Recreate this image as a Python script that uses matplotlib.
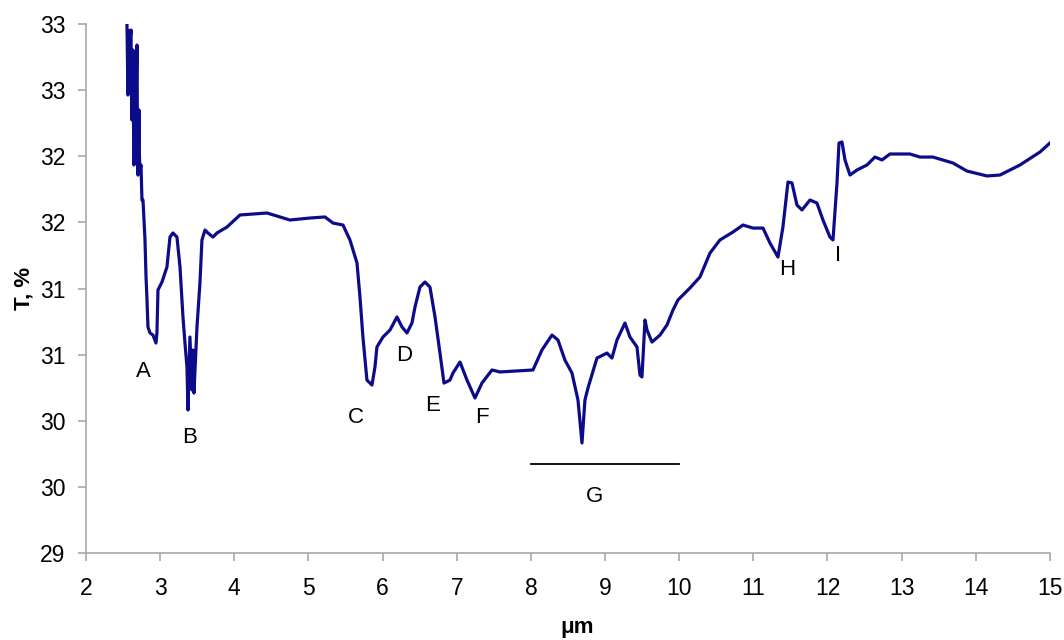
import matplotlib.pyplot as plt

plt.rcParams['font.family'] = ['Liberation Sans', 'DejaVu Sans']

# transmission spectrum: wavelength (um) and T (%)
wl = [2.553, 2.560, 2.566, 2.573, 2.580, 2.586, 2.593, 2.600, 2.607, 2.613,
      2.620, 2.627, 2.634, 2.640, 2.647, 2.654, 2.661, 2.667, 2.674, 2.681,
      2.688, 2.694, 2.701, 2.708, 2.715, 2.721, 2.728, 2.742, 2.755, 2.769,
      2.796, 2.809, 2.823,
      2.836, 2.863, 2.904, 2.944, 2.957, 2.971, 3.025, 3.092, 3.133, 3.173,
      3.227, 3.268, 3.308, 3.335, 3.362, 3.376, 3.402, 3.429, 3.443, 3.456,
      3.497, 3.537, 3.564, 3.605, 3.645, 3.713, 3.767, 3.902, 4.077, 4.441,
      4.751, 5.021, 5.223, 5.331, 5.466, 5.560, 5.655, 5.695, 5.735, 5.789,
      5.857, 5.897, 5.924, 6.005, 6.100, 6.194, 6.262, 6.329, 6.396, 6.437,
      6.504, 6.572, 6.639, 6.707, 6.774, 6.828, 6.909, 6.949, 7.044, 7.138,
      7.246, 7.340, 7.475, 7.583, 8.028, 8.149, 8.284, 8.365, 8.459, 8.554,
      8.635, 8.689, 8.729, 8.770, 8.891, 9.026, 9.093, 9.161, 9.269, 9.336,
      9.431, 9.471, 9.498, 9.539, 9.566, 9.633, 9.741, 9.835, 9.916, 9.983,
      10.145, 10.280, 10.415, 10.550, 10.725, 10.860, 10.995, 11.130, 11.224, 11.332,
      11.399, 11.467, 11.521, 11.588, 11.656, 11.764, 11.858, 11.939, 12.033, 12.074,
      12.128, 12.155, 12.195, 12.236, 12.303, 12.398, 12.532, 12.640, 12.735, 12.842,
      13.112, 13.247, 13.422, 13.692, 13.881, 14.151, 14.326, 14.596, 14.865, 15.000]
T = [33.000, 32.700, 32.463, 32.950, 32.879, 32.600, 32.501, 32.900, 32.955, 32.500,
     32.274, 32.650, 32.803, 32.300, 31.934, 32.500, 32.728, 32.300, 32.047, 32.600,
     32.841, 32.200, 31.858, 32.100, 32.350, 32.000, 31.896, 31.934, 31.669, 31.669,
     31.367, 31.102, 30.913,
     30.709, 30.664, 30.648, 30.588, 30.664, 30.989, 31.049, 31.163, 31.389, 31.420,
     31.389, 31.163, 30.785, 30.588, 30.406, 30.081, 30.633, 30.233, 30.535, 30.210,
     30.709, 31.042, 31.367, 31.442, 31.420, 31.389, 31.420, 31.465, 31.556, 31.571,
     31.518, 31.533, 31.541, 31.495, 31.480, 31.367, 31.193, 30.936, 30.633, 30.308,
     30.270, 30.406, 30.558, 30.633, 30.686, 30.785, 30.709, 30.664, 30.739, 30.860,
     31.011, 31.049, 31.011, 30.785, 30.512, 30.285, 30.308, 30.361, 30.444, 30.308,
     30.172, 30.285, 30.384, 30.369, 30.384, 30.535, 30.648, 30.611, 30.459, 30.361,
     30.157, 29.832, 30.157, 30.248, 30.474, 30.512, 30.474, 30.611, 30.739, 30.633,
     30.558, 30.346, 30.331, 30.762, 30.686, 30.595, 30.648, 30.724, 30.837, 30.913,
     31.004, 31.087, 31.268, 31.367, 31.427, 31.480, 31.457, 31.457, 31.344, 31.238,
     31.465, 31.805, 31.798, 31.631, 31.594, 31.669, 31.646, 31.518, 31.389, 31.367,
     31.798, 32.100, 32.108, 31.972, 31.858, 31.896, 31.934, 31.994, 31.972, 32.017,
     32.017, 31.994, 31.994, 31.949, 31.888, 31.851, 31.858, 31.934, 32.032, 32.100]

# band letters and where they sit
band_names = ['A', 'B', 'C', 'D', 'E', 'F', 'G', 'H', 'I']
band_x = [2.769, 3.402, 5.641, 6.288, 6.680, 7.340, 8.864, 11.453, 12.141]
band_y = [30.369, 29.870, 30.021, 30.497, 30.112, 30.028, 29.431, 31.140, 31.246]
g_range = [8.0, 10.0]
g_level = 29.673

yticks = [29, 29.5, 30, 30.5, 31, 31.5, 32, 32.5, 33]
ytick_labels = ['29', '30', '30', '31', '31', '32', '32', '33', '33']
xticks = list(range(2, 16))

fig = plt.figure(figsize=(10.64, 6.4), dpi=100)
ax = fig.add_axes([0.0808, 0.1359, 0.9060, 0.8266])

ax.plot(wl, T, color='#0c0c8a', lw=2.3, solid_joinstyle='round')

for name, bx, by in zip(band_names, band_x, band_y):
    ax.text(bx, by, name, fontsize=16, ha='center', va='center', color='black')
ax.plot(g_range, [g_level, g_level], color='black', lw=1.3)

ax.set_xlim(2, 15)
ax.set_ylim(29, 33)
ax.set_xticks(xticks)
ax.set_yticks(yticks)
ax.set_yticklabels(ytick_labels)

for s in ['top', 'right']:
    ax.spines[s].set_visible(False)
for s in ['left', 'bottom']:
    ax.spines[s].set_color('#a8a8a8')
    ax.spines[s].set_linewidth(1.2)
ax.tick_params(axis='both', colors='#a8a8a8', labelcolor='black',
               labelsize=16.5, length=6, width=1.2, direction='out')
ax.tick_params(axis='x', pad=11)
ax.tick_params(axis='y', pad=9)

ax.set_xlabel('\u03bcm', fontsize=16, fontweight='bold')
ax.xaxis.set_label_coords(0.51, -0.121)
ax.set_ylabel('T, %', fontsize=16, fontweight='bold', labelpad=4)

fig.savefig('out.png', dpi=100)
